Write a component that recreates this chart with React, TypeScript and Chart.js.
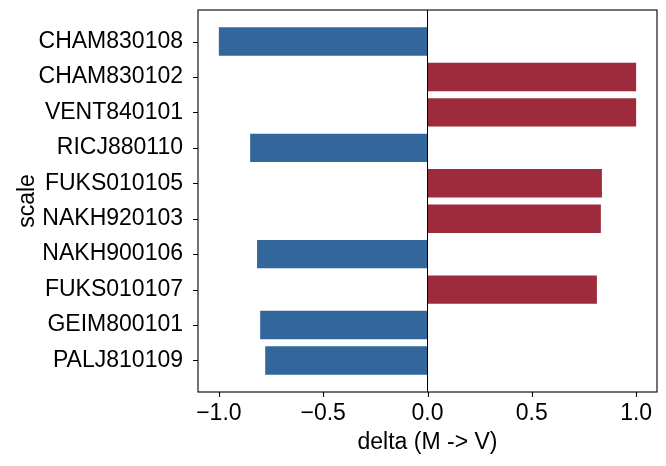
import React, { useEffect, useRef } from "react";
import { Chart, registerables } from "chart.js";

Chart.register(...registerables);

const scales: string[] = [
  "CHAM830108",
  "CHAM830102",
  "VENT840101",
  "RICJ880110",
  "FUKS010105",
  "NAKH920103",
  "NAKH900106",
  "FUKS010107",
  "GEIM800101",
  "PALJ810109",
];

const deltas: number[] = [-1.0, 1.0, 1.0, -0.85, 0.836, 0.831, -0.817, 0.812, -0.802, -0.778];

const xTicks: number[] = [-1.0, -0.5, 0.0, 0.5, 1.0];

const NEG = "#33679b";
const POS = "#9e2b3b";
const FONT = "'Liberation Sans', Arial, sans-serif";
const SIZE = 23;
const TICK_LEN = 5;

// Draws the black frame around the plot area and outward tick marks on both axes.
const framePlugin = {
  id: "frame",
  afterDraw(chart: any) {
    const { ctx, chartArea } = chart;
    const xs = chart.scales.x;
    const ys = chart.scales.y;
    ctx.save();
    ctx.strokeStyle = "#000";
    ctx.lineWidth = 1.1;
    ctx.strokeRect(
      chartArea.left,
      chartArea.top,
      chartArea.right - chartArea.left,
      chartArea.bottom - chartArea.top
    );
    ctx.beginPath();
    for (const t of xs.ticks) {
      const px = Math.round(xs.getPixelForValue(t.value)) + 0.5;
      ctx.moveTo(px, chartArea.bottom);
      ctx.lineTo(px, chartArea.bottom + TICK_LEN);
    }
    for (const t of ys.ticks) {
      const py = Math.round(ys.getPixelForValue(t.value)) + 0.5;
      ctx.moveTo(chartArea.left, py);
      ctx.lineTo(chartArea.left - TICK_LEN, py);
    }
    ctx.stroke();
    ctx.restore();
  },
};

export default function App() {
  const ref = useRef<HTMLCanvasElement | null>(null);

  useEffect(() => {
    document.body.style.margin = "0";
    if (!ref.current) return;
    const points = deltas.map((v, i) => ({ x: v, y: i }));
    const chart = new Chart(ref.current, {
      type: "bar",
      data: {
        datasets: [
          {
            data: points,
            backgroundColor: deltas.map((v) => (v < 0 ? NEG : POS)),
            barPercentage: 0.8,
            categoryPercentage: 1,
          },
        ],
      },
      options: {
        indexAxis: "y",
        animation: false,
        responsive: false,
        layout: { padding: { top: 10, right: 9, left: 0, bottom: 0 } },
        plugins: { legend: { display: false }, tooltip: { enabled: false } },
        scales: {
          x: {
            type: "linear",
            min: -1.1,
            max: 1.1,
            offset: false,
            afterBuildTicks: (scale: any) => {
              scale.ticks = xTicks.map((v) => ({ value: v }));
            },
            afterFit: (scale: any) => {
              scale.height = 74;
              scale.paddingLeft = 0;
              scale.paddingRight = 0;
            },
            border: { display: false },
            grid: {
              drawOnChartArea: true,
              offset: false,
              color: (ctx: any) => (ctx.tick && ctx.tick.value === 0 ? "#000" : "rgba(0,0,0,0)"),
              lineWidth: 1,
              tickColor: "rgba(0,0,0,0)",
              tickLength: TICK_LEN,
            },
            ticks: {
              color: "#000",
              font: { family: FONT, size: SIZE },
              padding: 3,
              maxRotation: 0,
              callback: (v: any) => (Number(v) < 0 ? "\u2212" + Math.abs(Number(v)).toFixed(1) : Number(v).toFixed(1)),
            },
            title: {
              display: true,
              text: "delta (M -> V)",
              color: "#000",
              font: { family: FONT, size: SIZE },
              padding: { top: 2, bottom: 10 },
            },
          },
          y: {
            type: "linear",
            reverse: true,
            min: -0.89,
            max: 9.89,
            offset: false,
            afterBuildTicks: (scale: any) => {
              scale.ticks = scales.map((_, i) => ({ value: i }));
            },
            afterFit: (scale: any) => {
              scale.width = 198;
              scale.paddingTop = 0;
              scale.paddingBottom = 0;
            },
            border: { display: false },
            grid: {
              drawOnChartArea: false,
              offset: false,
              tickColor: "rgba(0,0,0,0)",
              tickLength: TICK_LEN,
            },
            ticks: {
              color: "#000",
              font: { family: FONT, size: SIZE },
              padding: 10,
              autoSkip: false,
              callback: (v: any) => scales[Number(v)] ?? "",
            },
            title: {
              display: true,
              text: "scale",
              color: "#000",
              font: { family: FONT, size: SIZE },
              padding: { top: 14, bottom: 0 },
            },
          },
        },
      },
      plugins: [framePlugin],
    });
    return () => chart.destroy();
  }, []);

  return <canvas ref={ref} width={666} height={466} style={{ display: "block" }} />;
}
